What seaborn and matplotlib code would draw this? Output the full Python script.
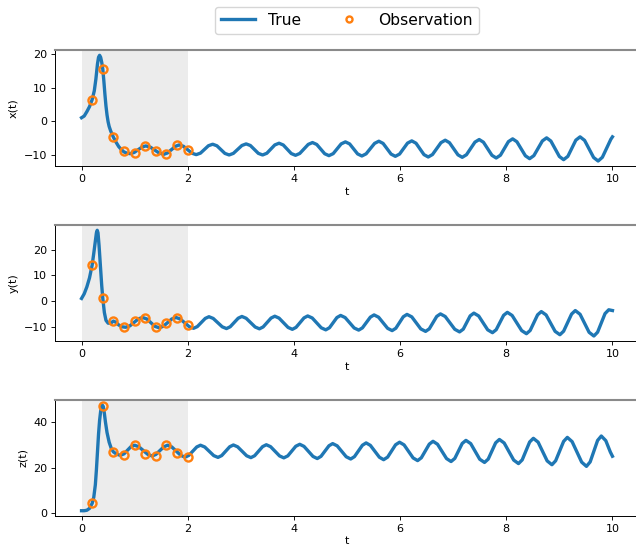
import matplotlib
matplotlib.use("Agg")
import matplotlib.pyplot as plt
import seaborn as sns
import pandas as pd

plt.rcParams['font.family'] = ['DejaVu Sans']
plt.rcParams['font.size'] = 8

# ---- True trajectory ----
t_x = [0.00,0.05,0.10,0.15,0.20,0.24,0.27,0.30,0.32,0.34,0.36,0.38,0.40,0.42,0.44,0.46,0.48,0.50,0.52,0.55,0.58,
       0.60,0.65,0.70,0.75,0.80,0.86,0.92,
       0.99,1.065,1.14,1.21, 1.295,1.38,1.465,1.55, 1.62,1.695,1.77,1.84, 1.92,2.00,2.08,2.16,
       2.24,2.315,2.39,2.47, 2.55,2.625,2.70,2.78, 2.86,2.94,3.02,3.10, 3.18,3.255,3.33,3.41,
       3.49,3.565,3.64,3.72, 3.80,3.875,3.95,4.03, 4.11,4.19,4.27,4.35, 4.43,4.505,4.58,4.66,
       4.74,4.815,4.89,4.97, 5.05,5.125,5.20,5.28, 5.36,5.44,5.52,5.60, 5.68,5.755,5.83,5.91,
       5.99,6.065,6.14,6.22, 6.30,6.375,6.45,6.53, 6.61,6.69,6.77,6.85, 6.93,7.01,7.09,7.17,
       7.25,7.33,7.41,7.49, 7.57,7.65,7.73,7.81, 7.89,7.965,8.04,8.12, 8.20,8.28,8.36,8.44,
       8.52,8.60,8.68,8.76, 8.84,8.92,9.00,9.08, 9.16,9.235,9.31,9.39, 9.475,9.56,9.645,9.73,
       9.81,9.89,9.97,10.00]
x_true = [1.0,1.5,2.8,4.3,6.4,9.0,12.5,17.0,19.0,19.6,19.0,17.5,15.5,12.0,8.0,4.5,1.8,-0.2,-1.6,-3.0,-4.1,
          -4.8,-6.3,-7.6,-8.5,-9.2,-9.6,-9.7,
          -9.36,-8.55,-7.74,-7.4, -7.77,-8.65,-9.54,-9.9, -9.49,-8.5,-7.51,-7.1, -7.52,-8.55,-9.58,-10.0,
          -9.55,-8.45,-7.35,-6.9, -7.37,-8.5,-9.63,-10.1, -9.62,-8.45,-7.28,-6.8, -7.28,-8.45,-9.62,-10.1,
          -9.59,-8.35,-7.11,-6.6, -7.13,-8.4,-9.67,-10.2, -9.65,-8.3,-6.95,-6.4, -6.97,-8.35,-9.73,-10.3,
          -9.7,-8.25,-6.8,-6.2, -6.81,-8.3,-9.79,-10.4, -9.76,-8.2,-6.64,-6.0, -6.66,-8.25,-9.84,-10.5,
          -9.83,-8.2,-6.57,-5.9, -6.6,-8.3,-10.0,-10.7, -9.97,-8.2,-6.43,-5.7, -6.44,-8.25,-10.06,-10.8,
          -10.03,-8.15,-6.27,-5.5, -6.3,-8.25,-10.2,-11.0, -10.17,-8.15,-6.13,-5.3, -6.16,-8.25,-10.34,-11.2,
          -10.29,-8.1,-5.91,-5.0, -5.95,-8.25,-10.55,-11.5, -10.51,-8.1,-5.69,-4.7, -5.75,-8.3,-10.85,-11.9,
          -10.79,-8.1,-5.41,-4.7]

t_y = [0.00,0.05,0.10,0.15,0.20,0.23,0.26,0.28,0.295,0.31,0.33,0.36,0.38,0.40,0.43,0.46,0.50,0.55,0.60,0.65,0.70,
       0.76,0.83,
       0.91,0.99,1.07,1.15, 1.23,1.305,1.38,1.46, 1.54,1.62,1.70,1.78, 1.86,1.945,2.03,2.11,
       2.18,2.255,2.33,2.40, 2.48,2.565,2.65,2.73, 2.80,2.875,2.95,3.02, 3.10,3.185,3.27,3.35,
       3.42,3.495,3.57,3.64, 3.72,3.805,3.89,3.97, 4.04,4.115,4.19,4.26, 4.345,4.43,4.515,4.60,
       4.67,4.74,4.81,4.88, 4.965,5.05,5.135,5.22, 5.29,5.365,5.44,5.51, 5.595,5.68,5.765,5.85,
       5.92,5.99,6.06,6.13, 6.22,6.305,6.39,6.48, 6.55,6.62,6.69,6.76, 6.85,6.94,7.03,7.12,
       7.19,7.255,7.32,7.39, 7.48,7.565,7.65,7.74, 7.81,7.88,7.95,8.02, 8.11,8.20,8.29,8.38,
       8.45,8.52,8.59,8.66, 8.75,8.835,8.92,9.01, 9.08,9.155,9.23,9.30, 9.39,9.475,9.56,9.65,
       9.72,9.79,9.86,9.93, 10.00]
y_true = [1.0,2.8,5.5,9.0,14.0,18.5,23.5,26.5,27.5,26.5,21.5,12.0,6.0,1.1,-4.5,-7.5,-8.6,-8.6,-7.8,-8.3,-9.3,
          -10.0,-10.2,
          -9.65,-8.3,-6.95,-6.4, -6.98,-8.4,-9.82,-10.4, -9.82,-8.4,-6.98,-6.4, -7.01,-8.5,-9.99,-10.6,
          -9.94,-8.35,-6.76,-6.1, -6.77,-8.4,-10.03,-10.7, -10.01,-8.35,-6.69,-6.0, -6.7,-8.4,-10.1,-10.8,
          -10.08,-8.35,-6.62,-5.9, -6.64,-8.45,-10.26,-11.0, -10.24,-8.4,-6.56,-5.8, -6.59,-8.5,-10.41,-11.2,
          -10.38,-8.4,-6.42,-5.6, -6.43,-8.45,-10.47,-11.3, -10.44,-8.35,-6.26,-5.4, -6.29,-8.45,-10.61,-11.5,
          -10.58,-8.35,-6.12,-5.2, -6.16,-8.5,-10.84,-11.8, -10.81,-8.4,-5.99,-5.0, -6.02,-8.5,-10.98,-12.0,
          -10.93,-8.35,-5.77,-4.7, -5.81,-8.5,-11.19,-12.3, -11.15,-8.35,-5.55,-4.4, -5.61,-8.55,-11.49,-12.7,
          -11.44,-8.4,-5.36,-4.1, -5.41,-8.6,-11.79,-13.1, -11.73,-8.4,-5.07,-3.7, -5.15,-8.65,-12.15,-13.6,
          -12.11,-8.5,-4.89,-3.4, -3.7]

t_z = [0.00,0.05,0.10,0.15,0.20,0.23,0.26,0.28,0.30,0.32,0.34,0.36,0.38,0.39,0.41,0.43,0.45,0.48,0.52,0.56,0.60,
       0.66,0.73,
       0.80,0.865,0.93,1.00, 1.08,1.165,1.25,1.33, 1.40,1.475,1.55,1.62, 1.70,1.785,1.87,1.95,
       2.02,2.095,2.17,2.24, 2.32,2.405,2.49,2.57, 2.64,2.715,2.79,2.86, 2.94,3.025,3.11,3.19,
       3.26,3.335,3.41,3.48, 3.56,3.645,3.73,3.81, 3.885,3.96,4.035,4.11, 4.19,4.275,4.36,4.44,
       4.51,4.585,4.66,4.73, 4.815,4.90,4.985,5.07, 5.14,5.215,5.29,5.36, 5.44,5.525,5.61,5.69,
       5.765,5.84,5.915,5.99, 6.075,6.16,6.245,6.33, 6.40,6.475,6.55,6.62, 6.705,6.79,6.875,6.96,
       7.03,7.10,7.17,7.24, 7.33,7.415,7.50,7.59, 7.66,7.73,7.80,7.87, 7.96,8.05,8.14,8.23,
       8.30,8.37,8.44,8.51, 8.60,8.685,8.77,8.86, 8.93,9.005,9.08,9.15, 9.24,9.33,9.42,9.51,
       9.58,9.65,9.72,9.79, 9.875,9.96,10.00]
z_true = [1.2,1.2,1.4,2.2,4.4,7.0,12.5,19.0,27.0,34.5,40.5,44.5,46.8,47.2,46.5,43.5,39.8,35.2,31.0,28.3,26.8,
          25.8,25.3,
          25.94,27.5,29.06,29.7, 29.01,27.35,25.69,25.0, 25.69,27.35,29.01,29.7, 28.94,27.1,25.26,24.5,
          25.26,27.1,28.94,29.7, 28.93,27.05,25.17,24.4, 25.19,27.1,29.01,29.8, 29.0,27.05,25.1,24.3,
          25.12,27.1,29.08,29.9, 29.07,27.05,25.03,24.2, 25.06,27.15,29.24,30.1, 29.19,27.0,24.81,23.9,
          24.85,27.15,29.45,30.4, 29.42,27.05,24.68,23.7, 24.72,27.2,29.68,30.7, 29.63,27.05,24.47,23.4,
          24.51,27.2,29.89,31.0, 29.83,27.0,24.17,23.0, 24.23,27.2,30.17,31.4, 30.12,27.0,23.88,22.6,
          23.94,27.2,30.46,31.8, 30.4,27.0,23.6,22.2, 23.66,27.2,30.74,32.2, 30.67,26.95,23.23,21.7,
          23.31,27.2,31.09,32.7, 31.02,26.95,22.88,21.2, 22.94,27.15,31.36,33.1, 31.26,26.8,22.34,20.5,
          22.43,27.1,31.77,33.7, 31.67,26.75,24.9]

# ---- Observations ----
t_obs = [0.2, 0.4, 0.6, 0.8, 1.0, 1.2, 1.4, 1.6, 1.8, 2.0]
x_obs = [6.4, 15.6, -4.8, -9.0, -9.4, -7.5, -8.9, -9.8, -7.2, -8.5]
y_obs = [14.0, 1.1, -7.8, -10.1, -7.8, -6.6, -10.1, -8.6, -6.6, -9.5]
z_obs = [4.4, 46.6, 26.8, 25.6, 29.6, 25.9, 25.2, 29.6, 26.4, 24.6]

series = [("x(t)", t_x, x_true, x_obs),
          ("y(t)", t_y, y_true, y_obs),
          ("z(t)", t_z, z_true, z_obs)]

fig = plt.figure(figsize=(6.36, 5.48), dpi=100)
W, H = 636.0, 548.0
left, right = 55.0, 639.0
tops = [50.0, 225.0, 399.7]
hgt = 116.3

blue = "#1f77b4"
orange = "#ff7f0e"

axes = []
for i, (lab, tt, vv, ob) in enumerate(series):
    ax = fig.add_axes([left / W, (H - tops[i] - hgt) / H, (right - left) / W, hgt / H])
    axes.append(ax)
    ax.axvspan(0, 2, color="gray", alpha=0.15, lw=0, zorder=0)
    df_true = pd.DataFrame({"t": tt, "v": vv})
    df_obs = pd.DataFrame({"t": t_obs, "v": ob})
    sns.lineplot(data=df_true, x="t", y="v", ax=ax, color=blue, lw=2.4,
                 label="True" if i == 0 else None, legend=False, sort=False, errorbar=None)
    sns.lineplot(data=df_obs, x="t", y="v", ax=ax, linestyle="", marker="o",
                 markersize=5.8, markerfacecolor="none", markeredgecolor=orange,
                 markeredgewidth=1.7, color=orange,
                 label="Observation" if i == 0 else None, legend=False, sort=False, errorbar=None)
    ax.set_xlabel("t", fontsize=8, labelpad=1.8)
    ax.set_ylabel(lab, fontsize=8)
    ax.set_xticks([0, 2, 4, 6, 8, 10])
    ax.tick_params(labelsize=8, length=2.8, width=0.64, pad=2.8)
    ax.spines["top"].set_color("#8a8a8a")
    ax.spines["top"].set_linewidth(1.5)
    for s in ["left", "bottom"]:
        ax.spines[s].set_linewidth(0.7)

axes[1].set_yticks([-10, 0, 10, 20])
axes[2].set_yticks([0, 20, 40])

h, l = axes[0].get_legend_handles_labels()
axes[0].legend(h, l, loc="lower center", bbox_to_anchor=(0.5, 1.137), ncol=2,
               fontsize=11.2, borderaxespad=0, handlelength=2.2, markerscale=0.75,
               columnspacing=2.0, frameon=True)

fig.savefig("out.png", dpi=100)
